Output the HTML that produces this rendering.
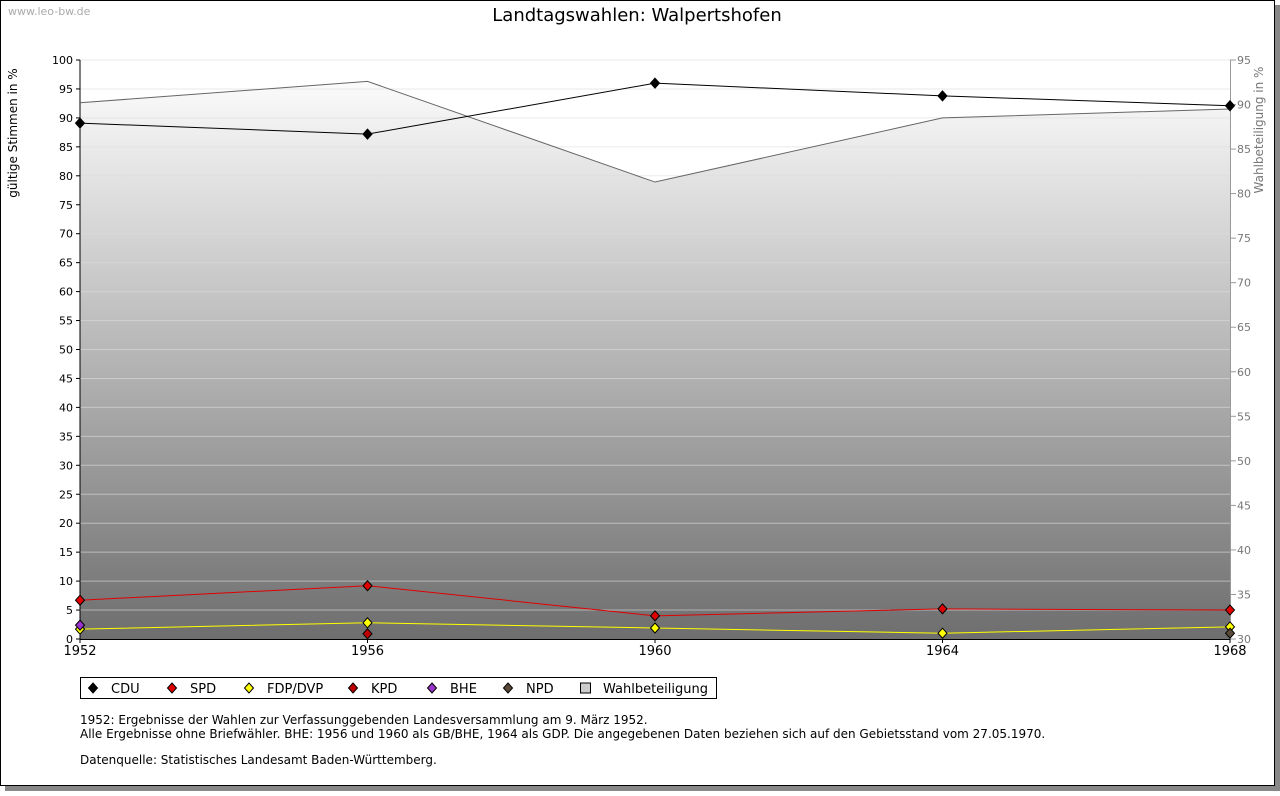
<!DOCTYPE html>
<html><head><meta charset="utf-8"><style>
body{margin:0;background:#fff;font-family:"Liberation Sans","DejaVu Sans",sans-serif;}
#wrap{position:relative;width:1280px;height:791px;}
</style></head><body><div id="wrap">
<svg id="c" width="1280" height="791" xmlns="http://www.w3.org/2000/svg" font-family="DejaVu Sans, Liberation Sans, sans-serif">
<defs><linearGradient id="g" x1="0" y1="0" x2="0" y2="1"><stop offset="0" stop-color="#fbfbfb"/><stop offset="1" stop-color="#6e6e6e"/></linearGradient></defs>
<rect x="5" y="5" width="1275" height="786" fill="#888"/>
<rect x="0.5" y="0.5" width="1274" height="785" fill="#fff" stroke="#000"/>
<text x="8" y="15" font-size="11" fill="#aaa">www.leo-bw.de</text>
<text x="637" y="21" font-size="18" text-anchor="middle">Landtagswahlen: Walpertshofen</text>
<g id="plot"></g>
<text transform="translate(17,133) rotate(-90)" font-size="12" text-anchor="middle">gültige Stimmen in %</text>
<text transform="translate(1263,130) rotate(-90)" font-size="12" fill="#777" text-anchor="middle">Wahlbeteiligung in %</text>
<rect x="80.5" y="677.5" width="636" height="21" fill="#fff" stroke="#000"/>
<g id="leg"></g>
<g font-size="12">
<text x="80" y="724">1952: Ergebnisse der Wahlen zur Verfassunggebenden Landesversammlung am 9. März 1952.</text>
<text x="80" y="738">Alle Ergebnisse ohne Briefwähler. BHE: 1956 und 1960 als GB/BHE, 1964 als GDP. Die angegebenen Daten beziehen sich auf den Gebietsstand vom 27.05.1970.</text>
<text x="80" y="764">Datenquelle: Statistisches Landesamt Baden-Württemberg.</text>
</g>
</svg></div>
<script>
const years=[1952,1956,1960,1964,1968];
const cdu=[89.1,87.2,96.0,93.8,92.1];
const spd=[6.7,9.2,4.0,5.2,5.0];
const fdp=[1.7,2.8,1.9,1.0,2.1];
const kpd=[null,0.9,null,null,null];
const bhe=[2.4,null,null,null,null];
const npd=[null,null,null,null,1.0];
const turnout=[90.2,92.6,81.3,88.5,89.5];
const leftTicks=[0,5,10,15,20,25,30,35,40,45,50,55,60,65,70,75,80,85,90,95,100];
const rightTicks=[30,35,40,45,50,55,60,65,70,75,80,85,90,95];
const X0=80,X1=1230,Y0=639,Y1=60;
const xs=i=>X0+(X1-X0)*(years[i]-years[0])/(years[years.length-1]-years[0]);
const yl=v=>Y0-(Y0-Y1)*v/100;
const yr=v=>Y0-(Y0-Y1)*(v-30)/65;
const NS="http://www.w3.org/2000/svg";
const P=document.getElementById('plot');
function mk(t,a,p){const e=document.createElementNS(NS,t);for(const k in a)e.setAttribute(k,a[k]);(p||P).appendChild(e);return e;}
// area
let d=`M${xs(0)},${Y0}`;turnout.forEach((v,i)=>d+=` L${xs(i)},${yr(v)}`);d+=` L${xs(years.length-1)},${Y0} Z`;
let a=mk('path',{d,fill:'url(#g)'});


leftTicks.forEach(t=>{
 if(t>0){const l=mk('line',{x1:X0,x2:X1,y1:yl(t),y2:yl(t),stroke:'#ddd','stroke-width':1,opacity:0.6});}
 mk('line',{x1:X0-4,x2:X0,y1:yl(t),y2:yl(t),stroke:'#000'});
 const tx=mk('text',{x:X0-7,y:yl(t)+4,'font-size':11,'text-anchor':'end'});tx.textContent=t;
 
 
});
rightTicks.forEach(t=>{
 mk('line',{x1:X1,x2:X1+6,y1:yr(t),y2:yr(t),stroke:'#999'});
 const tx=mk('text',{x:X1+7,y:yr(t)+4,'font-size':11,fill:'#777'});tx.textContent=t;
 
 
});
mk('line',{x1:X1+0.5,x2:X1+0.5,y1:Y1,y2:Y0,stroke:'#999'});
mk('line',{x1:X0,x2:X0,y1:Y1,y2:Y0,stroke:'#000'});
mk('line',{x1:X0,x2:X1,y1:Y0+0.5,y2:Y0+0.5,stroke:'#000'});
years.forEach((y,i)=>{mk('line',{x1:xs(i),x2:xs(i),y1:Y0,y2:Y0+4,stroke:'#000'});
 const tx=mk('text',{x:xs(i),y:Y0+16,'font-size':13,'text-anchor':'middle'});tx.textContent=y;
 
 });
let tl='';turnout.forEach((v,i)=>tl+=(i?' L':'M')+xs(i)+','+yr(v));
const tline=mk('path',{d:tl,fill:'none',stroke:'#666','stroke-width':1});


function series(name,vals,col,lc){
 let dd='',n=0;vals.forEach((v,i)=>{if(v!=null){dd+=(n?' L':'M')+xs(i)+','+yl(v);n++;}});
 if(n>1){const l=mk('path',{d:dd,fill:'none',stroke:lc,'stroke-width':1});}
 vals.forEach((v,i)=>{if(v==null)return;const x=xs(i),y=yl(v);
  const m=mk('path',{d:`M${x},${y-5} L${x+4.5},${y} L${x},${y+5} L${x-4.5},${y} Z`,fill:col,stroke:'#000','stroke-width':1});
  
  });
}
series('cdu',cdu,'#000','#000');
series('spd',spd,'#e00000','#e00000');
series('fdp',fdp,'#ffff00','#ffff00');
series('kpd',kpd,'#c00000','#c00000');
series('bhe',bhe,'#9933cc','#9933cc');
series('npd',npd,'#5a4a3a','#5a4a3a');
const L=document.getElementById('leg');
const legNames=['CDU','SPD','FDP/DVP','KPD','BHE','NPD','Wahlbeteiligung'];
const legCols=['#000','#e00000','#ffff00','#c00000','#9933cc','#5a4a3a','#ccc'];
const legX=[93,172,249,353,432,508,585];
legNames.forEach((n,i)=>{const x=legX[i],y=688;
 if(i<6)mk('path',{d:`M${x},${y-5} L${x+4.5},${y} L${x},${y+5} L${x-4.5},${y} Z`,fill:legCols[i],stroke:'#000'},L);
 else mk('rect',{x:x-4.5,y:y-5,width:10,height:10,fill:'#ccc',stroke:'#000'},L);
 const t=mk('text',{x:x+18,y:y+5,'font-size':13},L);t.textContent=n;
 
 });
</script></body></html>
